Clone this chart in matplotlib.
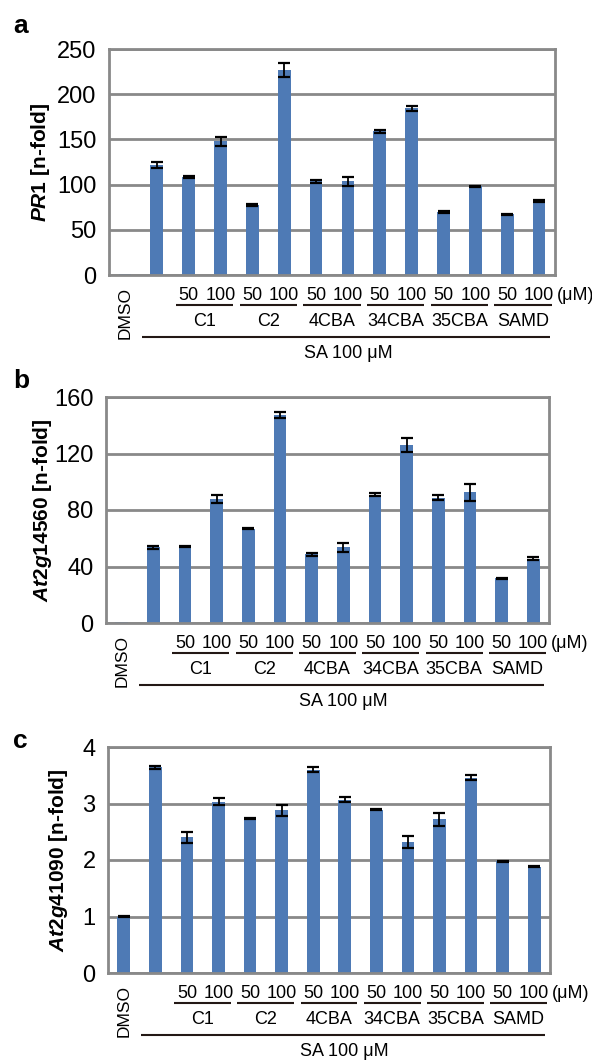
import matplotlib
matplotlib.use("Agg")
import matplotlib.pyplot as plt
import numpy as np

plt.rcParams['font.family'] = ['Liberation Sans', 'DejaVu Sans']
plt.rcParams['mathtext.fontset'] = 'custom'
plt.rcParams['mathtext.it'] = 'Liberation Sans:italic:bold'
plt.rcParams['mathtext.rm'] = 'Liberation Sans:bold'
plt.rcParams['mathtext.bf'] = 'Liberation Sans:bold'

# ---------------- data ----------------
compounds = ["C1", "C2", "4CBA", "34CBA", "35CBA", "SAMD"]
concs = ["50", "100"]
n_bars = 14  # DMSO, SA alone, then 6 compounds x 2 concentrations

pr1 = [1, 122, 108.5, 148, 77.5, 226.5, 103.5, 103.5, 159, 184.5, 69.5, 98, 67, 82]
pr1_err = [0, 3.5, 1, 5, 1, 8, 1.8, 4.5, 1.8, 3, 1, 1, 1, 1.2]

at2g14560 = [1, 53.6, 54.3, 87.7, 66.8, 147.4, 48.6, 53.5, 90.8, 126.3, 88.6, 92.4, 31.8, 45.5]
at2g14560_err = [0, 1, 0.5, 3, 0.5, 2, 1.2, 3, 1.2, 5, 1.8, 5.7, 0.3, 1.2]

at2g41090 = [1.0, 3.64, 2.40, 3.03, 2.74, 2.88, 3.60, 3.07, 2.89, 2.32, 2.72, 3.46, 1.98, 1.88]
at2g41090_err = [0.01, 0.03, 0.1, 0.06, 0.01, 0.1, 0.05, 0.04, 0.01, 0.11, 0.12, 0.05, 0.01, 0.01]

panels = [
    dict(letter="a", gene="PR1", vals=pr1, err=pr1_err, ymax=250, ticks=[0, 50, 100, 150, 200, 250],
         box=(109, 555, 49, 275), ylab_x=41, letter_y=26),
    dict(letter="b", gene="At2g14560", vals=at2g14560, err=at2g14560_err, ymax=160, ticks=[0, 40, 80, 120, 160],
         box=(106, 549, 397, 623), ylab_x=43, letter_y=381),
    dict(letter="c", gene="At2g41090", vals=at2g41090, err=at2g41090_err, ymax=4, ticks=[0, 1, 2, 3, 4],
         box=(108, 550, 747, 973), ylab_x=58, letter_y=741),
]

W, H = 592, 1063
fig = plt.figure(figsize=(W / 100, H / 100), dpi=100)

bar_color = "#4E7AB5"
frame_color = "#898989"
line_color = "#231815"
small = 13

for p in panels:
    l, r, t, b = p["box"]
    ax = fig.add_axes([l / W, 1 - b / H, (r - l) / W, (b - t) / H])
    axh = b - t
    x = np.arange(n_bars)
    vals = np.array(p["vals"], dtype=float)
    err = np.array(p["err"], dtype=float)
    ax.bar(x, vals, width=0.4, color=bar_color, zorder=2)
    m = err > 0
    ax.errorbar(x[m], vals[m], yerr=err[m], fmt="none", ecolor="black",
                elinewidth=1.3, capsize=4.5, capthick=1.6, zorder=3)
    ax.set_xlim(-0.5, n_bars - 0.5)
    ax.set_ylim(0, p["ymax"])
    ax.set_yticks(p["ticks"])
    ax.set_yticklabels([str(v) for v in p["ticks"]], fontsize=17)
    ax.set_xticks([])
    ax.tick_params(axis="y", length=0, pad=9)
    ax.set_axisbelow(True)
    ax.yaxis.grid(True, color=frame_color, linewidth=2.0, zorder=0)
    for s in ax.spines.values():
        s.set_color(frame_color)
        s.set_linewidth(2.0)
        s.set_zorder(2.5)

    # y label (gene italic bold, rest bold)
    ax.text((p["ylab_x"] - l) / (r - l), 0.5,
            r"$\mathit{" + p["gene"] + r"}$" + " [n-fold]",
            transform=ax.transAxes, rotation=90, ha="center", va="center",
            fontsize=15, fontweight="bold")

    # panel letter
    fig.text(13 / W, 1 - p["letter_y"] / H, p["letter"], fontsize=19,
             fontweight="bold", ha="left", va="center")

    tr = ax.get_xaxis_transform()

    def yf(px):
        return -px / axh

    ax.text(0, yf(38), "DMSO", transform=tr, rotation=90, ha="center", va="center",
            fontsize=12.5, clip_on=False)
    for k, comp in enumerate(compounds):
        i0 = 2 + 2 * k
        for j, c in enumerate(concs):
            ax.text(i0 + j, yf(20), c, transform=tr, ha="center", va="center",
                    fontsize=small, clip_on=False)
        ax.plot([i0 - 0.4, i0 + 1.4], [yf(30), yf(30)], transform=tr, color=line_color,
                linewidth=1.5, clip_on=False, solid_capstyle="butt")
        ax.text(i0 + 0.5, yf(46), comp, transform=tr, ha="center", va="center",
                fontsize=small, clip_on=False)
    ax.text(13.55, yf(20), "(μM)", transform=tr, ha="left", va="center",
            fontsize=small, clip_on=False)
    ax.plot([0.55, 13.33], [yf(62), yf(62)], transform=tr, color=line_color,
            linewidth=1.5, clip_on=False, solid_capstyle="butt")
    ax.text(7.0, yf(78), "SA 100 μM", transform=tr, ha="center", va="center",
            fontsize=small, clip_on=False)

fig.savefig("out.png", dpi=100)
